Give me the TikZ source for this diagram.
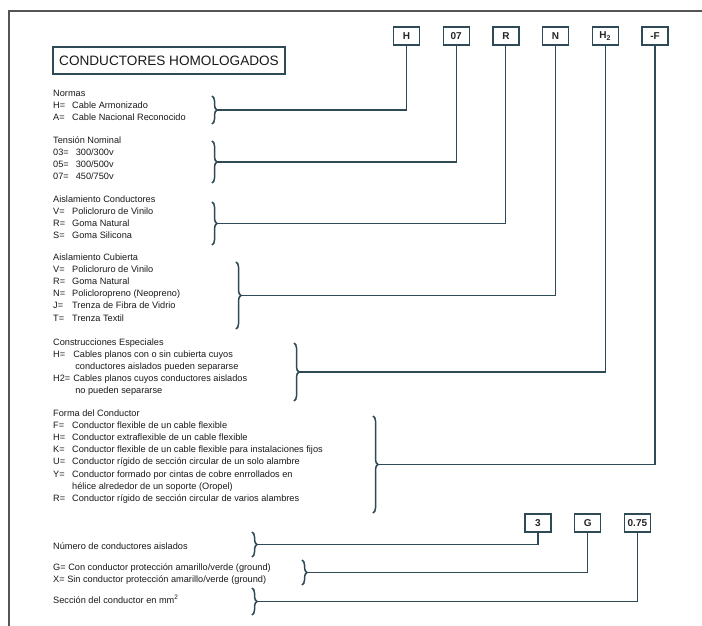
\documentclass[tikz,border=0pt]{standalone}
\usepackage{fontspec}
\setmainfont{Liberation Sans}
\usepackage{xcolor}
\usetikzlibrary{positioning,decorations.pathreplacing}
\definecolor{linea}{HTML}{2E4A56}
\definecolor{gris}{HTML}{555555}
\tikzset{
  cbox/.style={draw=linea,line width=1.2pt,fill=white,inner sep=2pt,
               minimum width=26pt,minimum height=18pt,
               font=\fontsize{10}{12}\selectfont\bfseries,text=black!85},
  tbox/.style={draw=linea,line width=1.2pt,minimum width=232pt,
               minimum height=27pt,font=\fontsize{13.6}{15}\selectfont,
               text=black!90},
  txt/.style={anchor=base west,inner sep=0pt,
              font=\fontsize{9.2}{12.2}\selectfont,text=black!90},
  brc/.style={draw=linea,line width=1.5pt,decorate,
              decoration={brace,amplitude=5pt}},
  lnk/.style={draw=linea,line width=1.1pt},
  borde/.style={draw=gris,line width=1.8pt},
}
\newcommand{\bloque}[2][7pt]{\begin{tabular}[t]{@{}l@{\hspace{#1}}l@{}}#2\end{tabular}}

\begin{document}
\begin{tikzpicture}[x=1pt,y=-1pt]
\useasboundingbox (0,0) rectangle (702,626);
\draw[borde] (702,11) -| (9,626);

% Codigo del cable
\node[cbox] (bH) at (406.5,36) {H};
\node[cbox,right=22.5pt of bH] (b07) {07};
\node[cbox,right=22.5pt of b07] (bR) {R};
\node[cbox,right=22.5pt of bR] (bN) {N};
\node[cbox,right=22.5pt of bN] (bH2) {H\textsubscript{2}};
\node[cbox,right=22.5pt of bH2] (bF) {-F};
\node[cbox] (b3) at (538,523) {3};
\node[cbox,right=22.5pt of b3] (bG) {G};
\node[cbox,right=22.5pt of bG] (b075) {0.75};

\node[tbox] (titulo) at (169,60.5) {CONDUCTORES HOMOLOGADOS};

% Textos
\node[txt] (normas) at (53,96) {\bloque{%
  \multicolumn{2}{@{}l@{}}{Normas}\\
  H= & Cable Armonizado\\
  A= & Cable Nacional Reconocido}};
\node[txt] (tension) at (53,143) {\bloque{%
  \multicolumn{2}{@{}l@{}}{Tensión Nominal}\\
  03= & 300/300v\\
  05= & 300/500v\\
  07= & 450/750v}};
\node[txt] (aislcond) at (53,202) {\bloque{%
  \multicolumn{2}{@{}l@{}}{Aislamiento Conductores}\\
  V= & Policloruro de Vinilo\\
  R= & Goma Natural\\
  S= & Goma Silicona}};
\node[txt] (aislcub) at (53,260) {\bloque{%
  \multicolumn{2}{@{}l@{}}{Aislamiento Cubierta}\\
  V= & Policloruro de Vinilo\\
  R= & Goma Natural\\
  N= & Policloropreno (Neopreno)\\
  J= & Trenza de Fibra de Vidrio\\
  T= & Trenza Textil}};
\node[txt] (constr) at (53,345) {\bloque[3pt]{%
  \multicolumn{2}{@{}l@{}}{Construcciones Especiales}\\
  H= & Cables planos con o sin cubierta cuyos\\
     & \hspace{2pt}conductores aislados pueden separarse\\
  H2= & Cables planos cuyos conductores aislados\\
     & \hspace{2pt}no pueden separarse}};
\node[txt] (forma) at (53,416) {\bloque{%
  \multicolumn{2}{@{}l@{}}{Forma del Conductor}\\
  F= & Conductor flexible de un cable flexible\\
  H= & Conductor extraflexible de un cable flexible\\
  K= & Conductor flexible de un cable flexible para instalaciones fijos\\
  U= & Conductor rígido de sección circular de un solo alambre\\
  Y= & Conductor formado por cintas de cobre enrrollados en\\
     & hélice alrededor de un soporte (Oropel)\\
  R= & Conductor rígido de sección circular de varios alambres}};
\node[txt] (numero) at (53,549) {Número de conductores aislados};
\node[txt] (tierra) at (53,570) {\begin{tabular}[t]{@{}l@{}}
  G= Con conductor protección amarillo/verde (ground)\\
  X= Sin conductor protección amarillo/verde (ground)\end{tabular}};
\node[txt] (seccion) at (53,603) {Sección del conductor en mm\textsuperscript{2}};

% Llaves y conexiones
\foreach \i/\x/\ya/\yb/\b in {1/212/96/124/bH, 2/212/141/183/b07,
    3/212/202/245/bR, 4/236/262/329/bN, 5/294/343/401/bH2,
    6/373/416/513/bF, 7/252/532/557/b3, 8/302/560/585/bG,
    9/252/588/615/b075}{
  \draw[brc] (\x,\ya) -- (\x,\yb);
  \coordinate (t\i) at ({\x+5},{(\ya+\yb)/2});
  \draw[lnk] (t\i) -| (\b);
}
\end{tikzpicture}
\end{document}
